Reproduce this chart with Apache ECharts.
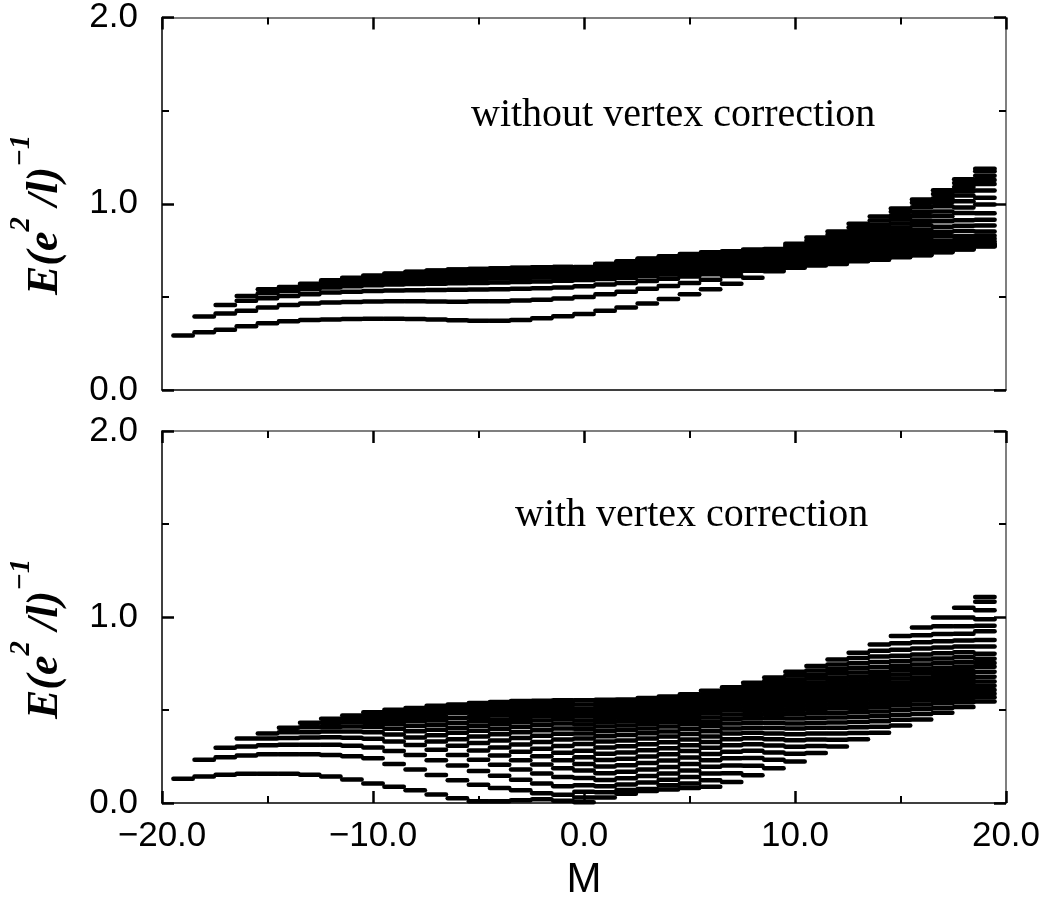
<!DOCTYPE html>
<html>
<head>
<meta charset="utf-8">
<script src="https://cdn.jsdelivr.net/npm/echarts@6/dist/echarts.min.js"></script>
<style>
html,body{margin:0;padding:0;background:#fff;}
#chart{width:1045px;height:902px;}
</style>
</head>
<body>
<div id="chart"></div>
<script>
// ---- data ----
const mValues = [-19,-18,-17,-16,-15,-14,-13,-12,-11,-10,-9,-8,-7,-6,-5,-4,-3,-2,-1,0,1,2,3,4,5,6,7,8,9,10,11,12,13,14,15,16,17,18,19];
const xTicks = [-20, -10, 0, 10, 20];
const yTicks = [0, 1, 2];
const topTitle = 'without vertex correction';
const bottomTitle = 'with vertex correction';

// energy levels for each M, panel "without vertex correction"
const topLevels = [
 [0.293],
 [0.310,0.394],
 [0.324,0.411,0.457],
 [0.342,0.426,0.479,0.505],
 [0.358,0.443,0.493,0.520,0.541],
 [0.369,0.456,0.505,0.532,0.545,0.553],
 [0.376,0.465,0.514,0.541,0.555,0.564,0.571],
 [0.379,0.470,0.523,0.550,0.565,0.575,0.583,0.589],
 [0.381,0.473,0.528,0.557,0.573,0.584,0.592,0.598,0.603],
 [0.382,0.475,0.532,0.562,0.580,0.592,0.600,0.606,0.611,0.615],
 [0.382,0.476,0.534,0.566,0.585,0.598,0.607,0.614,0.619,0.623,0.626],
 [0.381,0.476,0.536,0.569,0.589,0.603,0.613,0.620,0.626,0.630,0.633,0.635],
 [0.378,0.475,0.537,0.571,0.592,0.607,0.617,0.625,0.631,0.635,0.638,0.640,0.642],
 [0.374,0.474,0.538,0.573,0.595,0.610,0.621,0.629,0.635,0.639,0.642,0.644,0.646,0.647],
 [0.372,0.476,0.540,0.575,0.597,0.612,0.623,0.631,0.637,0.641,0.644,0.646,0.648,0.649,0.650],
 [0.372,0.477,0.541,0.577,0.599,0.614,0.625,0.633,0.639,0.643,0.646,0.648,0.650,0.651,0.652,0.653],
 [0.376,0.480,0.543,0.580,0.601,0.616,0.627,0.635,0.641,0.645,0.648,0.650,0.652,0.653,0.654,0.655,0.656],
 [0.385,0.485,0.546,0.583,0.604,0.618,0.629,0.637,0.643,0.647,0.650,0.652,0.654,0.655,0.656,0.657,0.658,0.659],
 [0.396,0.491,0.551,0.587,0.607,0.621,0.631,0.639,0.645,0.649,0.652,0.654,0.655,0.656,0.657,0.658,0.659,0.660,0.661],
 [0.408,0.500,0.557,0.590,0.608,0.620,0.629,0.636,0.641,0.645,0.648,0.650,0.652,0.654,0.655,0.656,0.657,0.658,0.659,0.660],
 [0.426,0.514,0.566,0.596,0.614,0.627,0.636,0.643,0.649,0.654,0.658,0.661,0.664,0.666,0.668,0.670,0.672,0.674,0.676,0.677],
 [0.443,0.528,0.575,0.603,0.621,0.634,0.643,0.651,0.657,0.662,0.666,0.670,0.673,0.676,0.679,0.681,0.684,0.686,0.689,0.691],
 [0.464,0.543,0.585,0.611,0.629,0.641,0.651,0.659,0.665,0.671,0.676,0.680,0.684,0.688,0.691,0.694,0.697,0.700,0.703,0.706],
 [0.488,0.558,0.597,0.620,0.637,0.649,0.659,0.667,0.674,0.680,0.685,0.690,0.694,0.698,0.702,0.705,0.709,0.712,0.715,0.718],
 [0.514,0.575,0.609,0.630,0.645,0.657,0.667,0.675,0.682,0.688,0.694,0.699,0.704,0.708,0.712,0.716,0.720,0.723,0.727,0.730],
 [0.541,0.592,0.621,0.640,0.654,0.665,0.675,0.683,0.690,0.697,0.703,0.708,0.713,0.717,0.721,0.725,0.729,0.732,0.736,0.739],
 [0.571,0.612,0.634,0.650,0.663,0.674,0.683,0.691,0.698,0.705,0.711,0.716,0.721,0.725,0.729,0.733,0.736,0.739,0.742,0.745],
 [0.603,0.640,0.650,0.660,0.669,0.678,0.686,0.694,0.701,0.708,0.714,0.720,0.725,0.730,0.735,0.739,0.743,0.747,0.751,0.754],
 [0.638,0.645,0.653,0.661,0.669,0.677,0.685,0.692,0.699,0.706,0.712,0.718,0.724,0.729,0.734,0.739,0.744,0.749,0.753,0.757],
 [0.656,0.661,0.666,0.672,0.678,0.684,0.690,0.696,0.702,0.708,0.714,0.720,0.727,0.734,0.741,0.748,0.756,0.765,0.775,0.785],
 [0.668,0.673,0.677,0.682,0.686,0.691,0.697,0.702,0.708,0.714,0.721,0.728,0.736,0.745,0.754,0.765,0.775,0.787,0.802,0.819],
 [0.677,0.680,0.685,0.689,0.694,0.700,0.705,0.712,0.719,0.727,0.734,0.744,0.754,0.764,0.776,0.788,0.802,0.816,0.834,0.851],
 [0.691,0.694,0.698,0.702,0.707,0.712,0.718,0.725,0.733,0.742,0.751,0.763,0.775,0.789,0.804,0.820,0.836,0.852,0.872,0.892],
 [0.700,0.702,0.706,0.710,0.715,0.721,0.728,0.736,0.745,0.755,0.767,0.781,0.797,0.813,0.832,0.850,0.869,0.887,0.910,0.931],
 [0.713,0.715,0.718,0.722,0.727,0.734,0.742,0.751,0.763,0.777,0.792,0.810,0.831,0.852,0.873,0.894,0.915,0.936,0.957,0.975],
 [0.723,0.725,0.728,0.732,0.737,0.745,0.753,0.765,0.780,0.798,0.816,0.837,0.861,0.885,0.909,0.933,0.957,0.981,1.005,1.023],
 [0.739,0.741,0.743,0.748,0.753,0.761,0.772,0.785,0.802,0.826,0.849,0.876,0.906,0.933,0.959,0.986,1.010,1.030,1.053,1.073],
 [0.754,0.756,0.759,0.763,0.769,0.779,0.791,0.806,0.826,0.854,0.882,0.912,0.950,0.980,1.014,1.044,1.067,1.090,1.112,1.131],
 [0.771,0.773,0.776,0.781,0.788,0.798,0.812,0.828,0.851,0.883,0.914,0.949,0.996,1.032,1.071,1.106,1.128,1.150,1.175,1.188]
];

// energy levels for each M, panel "with vertex correction"
const bottomLevels = [
 [0.131],
 [0.143,0.233],
 [0.152,0.246,0.297],
 [0.157,0.255,0.304,0.347],
 [0.157,0.262,0.311,0.347,0.373],
 [0.157,0.262,0.313,0.350,0.380,0.405],
 [0.152,0.262,0.313,0.352,0.381,0.407,0.431],
 [0.142,0.258,0.313,0.354,0.384,0.409,0.432,0.453],
 [0.126,0.252,0.308,0.351,0.384,0.411,0.434,0.453,0.470],
 [0.105,0.240,0.299,0.346,0.380,0.408,0.432,0.453,0.471,0.488],
 [0.087,0.210,0.280,0.330,0.368,0.399,0.425,0.448,0.468,0.486,0.502],
 [0.068,0.180,0.258,0.312,0.352,0.386,0.414,0.439,0.461,0.480,0.497,0.511],
 [0.046,0.150,0.230,0.286,0.330,0.364,0.394,0.421,0.445,0.466,0.486,0.505,0.523],
 [0.025,0.122,0.201,0.258,0.308,0.343,0.378,0.405,0.431,0.458,0.485,0.506,0.520,0.529],
 [0.010,0.098,0.172,0.232,0.282,0.322,0.357,0.388,0.415,0.440,0.463,0.485,0.505,0.522,0.537],
 [0.010,0.080,0.146,0.205,0.256,0.299,0.336,0.369,0.398,0.424,0.448,0.470,0.491,0.510,0.527,0.543],
 [0.015,0.068,0.125,0.180,0.230,0.275,0.314,0.349,0.380,0.408,0.434,0.458,0.480,0.500,0.518,0.534,0.548],
 [0.020,0.052,0.105,0.158,0.207,0.251,0.292,0.328,0.361,0.391,0.418,0.443,0.466,0.487,0.506,0.523,0.538,0.550],
 [0.012,0.045,0.090,0.140,0.187,0.230,0.270,0.307,0.341,0.372,0.401,0.427,0.451,0.473,0.493,0.511,0.527,0.541,0.552],
 [0.004,0.030,0.060,0.095,0.134,0.175,0.210,0.246,0.281,0.317,0.347,0.374,0.399,0.422,0.444,0.466,0.487,0.507,0.530,0.552],
 [0.030,0.058,0.090,0.124,0.160,0.196,0.231,0.265,0.298,0.330,0.359,0.386,0.411,0.434,0.456,0.477,0.497,0.516,0.536,0.555],
 [0.050,0.070,0.100,0.133,0.168,0.203,0.238,0.272,0.305,0.336,0.365,0.392,0.417,0.440,0.462,0.482,0.501,0.520,0.539,0.557],
 [0.065,0.075,0.110,0.145,0.180,0.215,0.250,0.284,0.316,0.347,0.375,0.401,0.425,0.448,0.469,0.489,0.508,0.527,0.546,0.564],
 [0.072,0.095,0.125,0.158,0.193,0.228,0.262,0.295,0.327,0.357,0.385,0.411,0.435,0.457,0.478,0.498,0.517,0.536,0.555,0.573],
 [0.080,0.105,0.140,0.175,0.210,0.245,0.279,0.311,0.342,0.371,0.398,0.423,0.446,0.468,0.489,0.509,0.528,0.547,0.566,0.585],
 [0.088,0.122,0.158,0.195,0.230,0.264,0.297,0.328,0.358,0.386,0.412,0.437,0.460,0.482,0.503,0.523,0.543,0.563,0.583,0.603],
 [0.113,0.160,0.201,0.240,0.276,0.310,0.343,0.373,0.401,0.428,0.453,0.476,0.498,0.519,0.539,0.558,0.576,0.593,0.608,0.622],
 [0.149,0.200,0.242,0.281,0.316,0.348,0.378,0.405,0.431,0.455,0.477,0.498,0.518,0.537,0.556,0.574,0.592,0.610,0.629,0.647],
 [0.187,0.232,0.272,0.309,0.343,0.374,0.403,0.430,0.455,0.478,0.500,0.521,0.541,0.561,0.580,0.599,0.618,0.637,0.656,0.675],
 [0.223,0.265,0.303,0.338,0.370,0.400,0.428,0.454,0.478,0.501,0.523,0.544,0.564,0.584,0.604,0.624,0.644,0.664,0.685,0.706],
 [0.269,0.307,0.342,0.374,0.404,0.432,0.458,0.482,0.505,0.527,0.548,0.568,0.588,0.608,0.628,0.648,0.669,0.690,0.713,0.737],
 [0.304,0.340,0.373,0.404,0.433,0.460,0.485,0.509,0.531,0.552,0.573,0.593,0.613,0.633,0.654,0.675,0.697,0.720,0.745,0.771],
 [0.343,0.376,0.407,0.436,0.463,0.488,0.512,0.534,0.555,0.575,0.595,0.615,0.636,0.657,0.679,0.702,0.726,0.752,0.779,0.808],
 [0.378,0.410,0.440,0.467,0.492,0.516,0.538,0.559,0.579,0.599,0.619,0.640,0.661,0.683,0.706,0.731,0.758,0.787,0.818,0.852],
 [0.417,0.447,0.475,0.501,0.525,0.547,0.568,0.588,0.608,0.628,0.648,0.669,0.691,0.714,0.738,0.764,0.792,0.824,0.859,0.898],
 [0.449,0.478,0.505,0.530,0.553,0.574,0.594,0.614,0.634,0.654,0.675,0.697,0.720,0.745,0.771,0.799,0.830,0.864,0.902,0.944],
 [0.485,0.511,0.536,0.559,0.580,0.600,0.620,0.640,0.660,0.681,0.703,0.726,0.751,0.777,0.805,0.836,0.870,0.908,0.950,0.997],
 [0.516,0.541,0.564,0.586,0.607,0.627,0.647,0.667,0.688,0.710,0.733,0.757,0.783,0.811,0.841,0.874,0.910,0.950,0.997,1.050],
 [0.546,0.569,0.587,0.608,0.630,0.653,0.679,0.706,0.732,0.753,0.776,0.803,0.842,0.877,0.923,0.953,0.988,1.036,1.082,1.107]
];

// ---- build ----
function toPoints(levels) {
  const pts = [];
  mValues.forEach((m, i) => levels[i].forEach(e => pts.push([m, e])));
  return pts;
}
const fmt = v => (v < 0 ? '\u2212' : '') + Math.abs(v).toFixed(1);

const chart = echarts.init(document.getElementById('chart'), null, {renderer: 'canvas'});

const LABEL_FONT = 'Liberation Sans';
const GRID_L = 162, GRID_W = 844;
const grids = [
  {left: GRID_L, top: 14, width: GRID_W, height: 376},
  {left: GRID_L, top: 431, width: GRID_W, height: 377}
];

function xAxisDef(gridIndex, position, showTicks, showLabels) {
  return {
    type: 'value', gridIndex, position, min: -20, max: 20, interval: 10,
    axisLine: {show: true, onZero: false, lineStyle: {color: position === 'bottom' ? '#000' : '#555', width: 1.5}},
    axisTick: {show: showTicks, inside: true, length: 12, lineStyle: {color: '#000', width: 2.5}},
    minorTick: {show: showTicks, splitNumber: 2, length: 7, lineStyle: {color: '#000', width: 2}},
    axisLabel: {show: showLabels, margin: 16, color: '#000', fontFamily: LABEL_FONT, fontSize: 35,
      formatter: v => xTicks.includes(v) ? fmt(v) : ''},
    splitLine: {show: false},
    name: showLabels ? 'M' : '', nameLocation: 'middle', nameGap: 56,
    nameTextStyle: {color: '#000', fontFamily: LABEL_FONT, fontSize: 42}
  };
}
function yAxisDef(gridIndex, position, showLabels) {
  return {
    type: 'value', gridIndex, position, min: 0, max: 2, interval: 1,
    axisLine: {show: true, onZero: false, lineStyle: {color: position === 'left' ? '#000' : '#555', width: 1.5}},
    axisTick: {show: true, inside: true, length: 12, lineStyle: {color: '#000', width: 2.5}},
    minorTick: {show: true, splitNumber: 2, length: 7, lineStyle: {color: '#000', width: 2}},
    axisLabel: {show: showLabels, margin: 24, color: '#000', fontFamily: LABEL_FONT, fontSize: 35,
      formatter: v => yTicks.includes(v) ? v.toFixed(1) : ''},
    splitLine: {show: false}
  };
}

function dashSeries(xi, yi, levels) {
  return {
    type: 'custom', xAxisIndex: xi, yAxisIndex: yi, silent: true, animation: false,
    data: toPoints(levels),
    renderItem: function (params, api) {
      const m = api.value(0), e = api.value(1);
      const p1 = api.coord([m - 0.46, e]);
      const p2 = api.coord([m + 0.46, e]);
      return {type: 'line', shape: {x1: p1[0], y1: p1[1], x2: p2[0], y2: p2[1]},
        style: {stroke: '#000', lineWidth: 4.5, lineCap: 'round'}};
    }
  };
}

// rotated y-axis title E(e^2/l)^-1 built from real text pieces
const measureCtx = document.createElement('canvas').getContext('2d');
function yTitle(x0, y0) {
  const pieces = [
    {t: 'E(e', size: 44, dy: -16},
    {t: '2', size: 29, dy: -40},
    {t: ' /l)', size: 44, dy: -16},
    {t: '\u22121', size: 29, dy: -40}
  ];
  let x = 0;
  const children = [];
  pieces.forEach(p => {
    measureCtx.font = 'italic bold ' + p.size + 'px "Liberation Serif"';
    const w = measureCtx.measureText(p.t).width;
    children.push({type: 'text', x: x, y: p.dy,
      style: {text: p.t, fontFamily: 'Liberation Serif', fontStyle: 'italic', fontWeight: 'bold',
        fontSize: p.size, fill: '#000', verticalAlign: 'middle', align: 'left'}});
    x += w;
  });
  return {type: 'group', x: x0, y: y0, rotation: Math.PI / 2, children, silent: true};
}

const option = {
  backgroundColor: '#fff',
  animation: false,
  grid: grids,
  xAxis: [
    xAxisDef(0, 'bottom', false, false),
    xAxisDef(0, 'top', true, false),
    xAxisDef(1, 'bottom', true, true),
    xAxisDef(1, 'top', true, false)
  ],
  yAxis: [
    yAxisDef(0, 'left', true),
    yAxisDef(0, 'right', false),
    yAxisDef(1, 'left', true),
    yAxisDef(1, 'right', false)
  ],
  series: [
    dashSeries(0, 0, topLevels),
    dashSeries(2, 2, bottomLevels)
  ],
  graphic: [
    yTitle(62, 295),
    yTitle(62, 719),
    {type: 'text', x: 471, y: 115, silent: true,
      style: {text: topTitle, fontFamily: 'Liberation Serif', fontSize: 40, fill: '#000', verticalAlign: 'middle'}},
    {type: 'text', x: 515, y: 515, silent: true,
      style: {text: bottomTitle, fontFamily: 'Liberation Serif', fontSize: 40, fill: '#000', verticalAlign: 'middle'}}
  ]
};
chart.setOption(option);
</script>
</body>
</html>
